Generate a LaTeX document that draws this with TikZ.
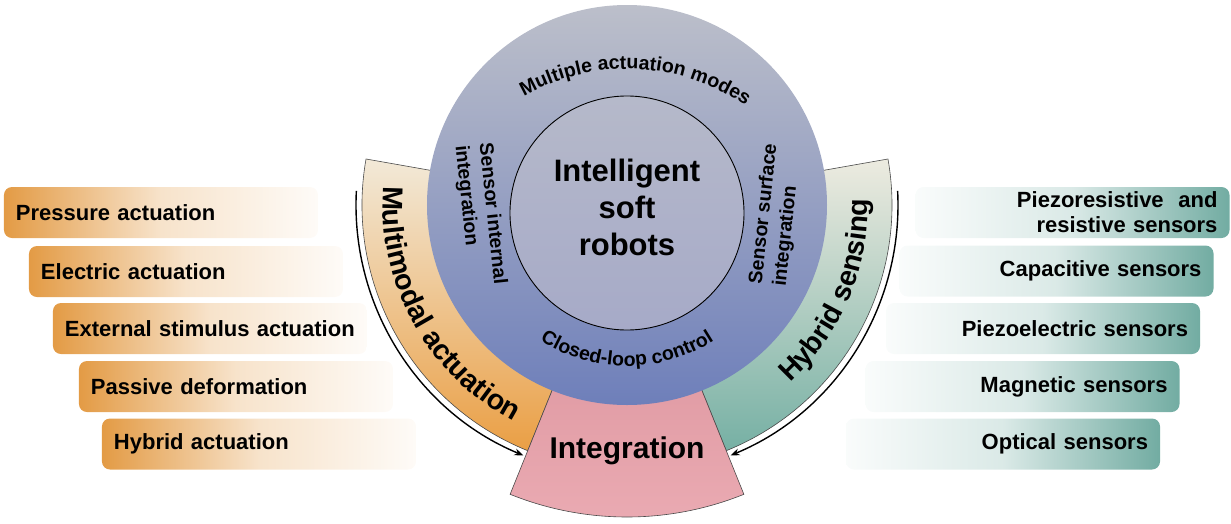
\documentclass[tikz,border=0pt]{standalone}
\usepackage{fontspec}
\setmainfont{Liberation Sans}
\usetikzlibrary{arrows.meta, decorations.text}

\definecolor{naranja}{HTML}{E39B45}
\definecolor{verde}{HTML}{72ACA2}
\definecolor{crema}{HTML}{F2E9D8}
\definecolor{naranjasec}{HTML}{EA9F45}
\definecolor{cremaverde}{HTML}{EDEBE0}
\definecolor{verdesec}{HTML}{76B0A4}
\definecolor{rosa}{HTML}{E8A1AA}
\definecolor{azulsup}{HTML}{BCBFCA}
\definecolor{azulmed}{HTML}{9EA6C7}
\definecolor{azulinf}{HTML}{6E7FBA}
\definecolor{centro}{HTML}{AFB3C5}
\definecolor{borde}{HTML}{4A4A4A}

\begin{document}
\begin{tikzpicture}[x=1pt, y=1pt, >={Stealth[length=9pt, width=7pt]}, line width=0.7pt,
  actbox/.style={rectangle, rounded corners=8pt, minimum height=51pt,
    text width=290pt, inner xsep=12pt, align=left,
    left color=naranja, right color=naranja!4!white, middle color=naranja!28!white,
    font=\fontsize{22}{25}\selectfont\bfseries},
  senbox/.style={actbox, align=right,
    left color=verde!4!white, right color=verde, middle color=verde!26!white},
  sector/.style={draw=borde, line width=0.6pt}]
  \useasboundingbox (-627,-318) rectangle (604,205);

  % cajas de actuacion
  \node[actbox] (pres) at (-466,-7.5) {Pressure actuation};
  \node[actbox] (elec) at (-441,-66.5) {Electric actuation};
  \node[actbox] (ext) at (-417,-123.5) {External stimulus actuation};
  \node[actbox] (pasv) at (-391,-181.5) {Passive deformation};
  \node[actbox] (hibact) at (-368,-239) {Hybrid actuation};

  % cajas de sensores
  \node[senbox] (piezr) at (445.5,-7.5) {Piezoresistive\ \ and\\resistive sensors};
  \node[senbox] (capac) at (429.5,-66) {Capacitive sensors};
  \node[senbox] (piezel) at (416,-123.5) {Piezoelectric sensors};
  \node[senbox] (magn) at (395.5,-181.5) {Magnetic sensors};
  \node[senbox] (opt) at (376,-239) {Optical sensors};

  % sectores del anillo
  \draw[sector, top color=crema, bottom color=naranjasec]
    (170:190) -- (170:265) arc[start angle=170, end angle=248, radius=265] -- (248:190) -- cycle;
  \draw[sector, top color=cremaverde, bottom color=verdesec]
    (-68:190) -- (-68:265) arc[start angle=-68, end angle=10, radius=265] -- (10:190) -- cycle;
  \draw[sector, top color=rosa!97!black, bottom color=rosa!90!white]
    (-112:190) -- (-112:312) arc[start angle=-112, end angle=-68, radius=312] -- (-68:190) -- cycle;

  % circulo exterior y nucleo
  \shade[top color=azulsup, middle color=azulmed, bottom color=azulinf] (0,0) circle[radius=200];
  \draw[line width=0.9pt, top color=centro!92!white, bottom color=centro!95!blue] (0,-8) circle[radius=117];
  \node[font=\fontsize{31}{37}\selectfont\bfseries, align=center] (isr) at (0,-2) {Intelligent\\soft\\robots};
  \node[font=\fontsize{30}{36}\selectfont\bfseries] (integ) at (0,-246) {Integration};

  % textos curvos del anillo
  \path[decorate, decoration={text along path, text align=center,
    text={|\fontsize{28.5}{28}\selectfont\bfseries|Multimodal actuation}}]
    (159:244) arc[start angle=159, end angle=259, radius=244];
  \path[decorate, decoration={text along path, text align=center,
    text={|\fontsize{28.5}{28}\selectfont\bfseries|Hybrid sensing}}]
    (-73:241) arc[start angle=-73, end angle=27, radius=241];
  \path[shift={(0,-73)}, decorate, decoration={text along path, text align=center,
    text={|\fontsize{19.5}{20}\selectfont\bfseries|Multiple actuation modes}}]
    (147.5:209) arc[start angle=147.5, end angle=27.5, radius=209];
  \path[decorate, decoration={text along path, text align=center,
    text={|\fontsize{19.5}{20}\selectfont\bfseries|Closed-loop control}}]
    (-150:161) arc[start angle=-150, end angle=-30, radius=161];
  \node[font=\fontsize{19.5}{24}\selectfont\bfseries, align=left, rotate=-84] (sinterna) at (-147,-10) {Sensor internal\\integration};
  \node[font=\fontsize{19.5}{24}\selectfont\bfseries, align=left, rotate=84] (ssuperf) at (149,-10) {Sensor surface\\integration};

  % flechas hacia la integracion
  \draw[->, line width=1.4pt] (177:271) arc[start angle=177, end angle=247.5, radius=271];
  \draw[->, line width=1.4pt] (3:271) arc[start angle=3, end angle=-67.5, radius=271];
\end{tikzpicture}
\end{document}
